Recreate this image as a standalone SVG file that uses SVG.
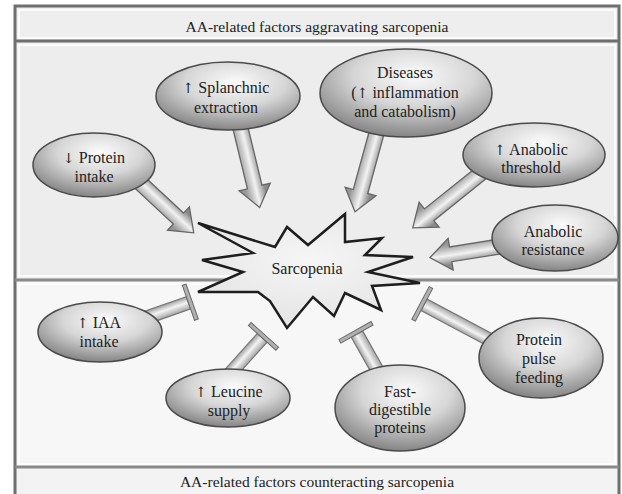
<svg xmlns="http://www.w3.org/2000/svg" width="622" height="494" viewBox="0 0 622 494">
<defs>
<radialGradient id="eg" cx="55%" cy="30%" r="70%">
<stop offset="0" stop-color="#fbfbfb"/>
<stop offset="0.5" stop-color="#d6d6d6"/>
<stop offset="1" stop-color="#858585"/>
</radialGradient>
<linearGradient id="ag" gradientUnits="userSpaceOnUse" x1="0" y1="-10" x2="0" y2="10">
<stop offset="0" stop-color="#8a8a8a"/>
<stop offset="0.45" stop-color="#f2f2f2"/>
<stop offset="1" stop-color="#969696"/>
</linearGradient>
<linearGradient id="tg" gradientUnits="userSpaceOnUse" x1="0" y1="-7" x2="0" y2="7">
<stop offset="0" stop-color="#999"/>
<stop offset="0.45" stop-color="#f4f4f4"/>
<stop offset="1" stop-color="#a0a0a0"/>
</linearGradient>
<radialGradient id="sg" cx="50%" cy="40%" r="60%">
<stop offset="0" stop-color="#f6f6f6"/>
<stop offset="1" stop-color="#e4e4e4"/>
</radialGradient>
</defs>
<style>
text{font-family:'Liberation Serif','DejaVu Serif',serif;fill:#222;text-anchor:middle}
.t{font-size:16px}
.h{font-size:15.5px}
.a{font-family:'DejaVu Serif',serif;font-size:14px}
.node ellipse{fill:url(#eg);stroke:#4a4a4a;stroke-width:1.5}
.arr{fill:url(#ag);stroke:#666;stroke-width:1.3;stroke-linejoin:miter}
.tb{fill:url(#tg);stroke:#777;stroke-width:1.2}
.bar{fill:#b0b0b0;stroke:#6a6a6a;stroke-width:1}
.frame{fill:none;stroke:#6f6f6f;stroke-width:3}
</style>
<rect width="622" height="494" fill="#ffffff"/>
<rect x="15" y="6" width="604" height="35" fill="#eeeeee"/>
<rect x="15" y="41" width="604" height="239" fill="#ededed"/>
<rect x="15" y="280" width="604" height="187" fill="#f7f7f7"/>
<rect x="15" y="467" width="604" height="27" fill="#f3f3f3"/>
<g fill="none" stroke="#ffffff" stroke-width="2" opacity="0.8">
<rect x="19" y="10" width="596" height="28"/>
<rect x="19" y="45" width="596" height="231"/>
<rect x="19" y="284" width="596" height="180"/>
</g>
<path class="frame" d="M15,494 V6 H619 V494"/>
<line x1="15" y1="41" x2="619" y2="41" stroke="#6f6f6f" stroke-width="3"/>
<line x1="15" y1="280" x2="619" y2="280" stroke="#8a8a8a" stroke-width="3"/>
<line x1="15" y1="467" x2="619" y2="467" stroke="#8a8a8a" stroke-width="3"/>
<text class="h" x="317" y="32" font-family="Liberation Serif, serif">AA-related factors aggravating sarcopenia</text>
<text class="h" x="317" y="487" font-family="Liberation Serif, serif">AA-related factors counteracting sarcopenia</text>

<g id="connectors">
<polygon class="arr" transform="translate(136,179) rotate(43)" points="0,-7.5 58,-7.5 58,-16 79,0 58,16 58,7.5 0,7.5"/>
<polygon class="arr" transform="translate(238,118) rotate(76.4)" points="0,-7.5 71,-7.5 71,-16 92,0 71,16 71,7.5 0,7.5"/>
<polygon class="arr" transform="translate(379,124) rotate(105.3)" points="0,-7.5 70,-7.5 70,-16 91,0 70,16 70,7.5 0,7.5"/>
<polygon class="arr" transform="translate(490,166) rotate(141.3)" points="0,-7.5 78,-7.5 78,-16 99,0 78,16 78,7.5 0,7.5"/>
<polygon class="arr" transform="translate(503,246) rotate(171)" points="0,-7.5 53,-7.5 53,-16 74,0 53,16 53,7.5 0,7.5"/>
<g transform="translate(145,318) rotate(-19.3)"><rect class="tb" x="0" y="-6.5" width="46" height="13"/><rect class="bar" x="46" y="-18.5" width="4" height="37"/></g>
<g transform="translate(226,378) rotate(-48)"><rect class="tb" x="0" y="-6.5" width="54" height="13"/><rect class="bar" x="54" y="-18.5" width="4" height="37"/></g>
<g transform="translate(380,375) rotate(-119.4)"><rect class="tb" x="0" y="-6.5" width="47" height="13"/><rect class="bar" x="47" y="-18.5" width="4" height="37"/></g>
<g transform="translate(492,341) rotate(-152)"><rect class="tb" x="0" y="-6.5" width="77" height="13"/><rect class="bar" x="77" y="-18.5" width="4" height="37"/></g>
</g>

<g id="sarcopenia">
<polygon points="198,223 275,247 287,227 308,245 345,214 345,242 382,238 365,255 413,257 368,272 420,283 372,286 381,310 345,293 334,316 313,297 287,328 270,301 258,292 198,292 243,272 202,260 253,253" fill="url(#sg)" stroke="#1e1e1e" stroke-width="2.5" stroke-linejoin="miter"/>
<text class="t" x="307" y="274">Sarcopenia</text>
</g>

<g id="n-protein-intake" class="node"><ellipse cx="94" cy="165" rx="61" ry="32"/><text class="t" x="94" y="163"><tspan class="a">↓</tspan> Protein</text><text class="t" x="94" y="182">intake</text></g>
<g id="n-splanchnic" class="node"><ellipse cx="228" cy="96" rx="72" ry="34"/><text class="t" x="226" y="93"><tspan class="a">↑</tspan> Splanchnic</text><text class="t" x="226" y="113">extraction</text></g>
<g id="n-diseases" class="node"><ellipse cx="406" cy="93" rx="86" ry="44"/><text class="t" x="405" y="78">Diseases</text><text class="t" x="405" y="98">(<tspan class="a">↑</tspan> inflammation</text><text class="t" x="405" y="117">and catabolism)</text></g>
<g id="n-threshold" class="node"><ellipse cx="534" cy="155" rx="71" ry="32"/><text class="t" x="531" y="155"><tspan class="a">↑</tspan> Anabolic</text><text class="t" x="531" y="173">threshold</text></g>
<g id="n-resistance" class="node"><ellipse cx="555" cy="238" rx="63" ry="33"/><text class="t" x="553" y="237">Anabolic</text><text class="t" x="553" y="255">resistance</text></g>
<g id="n-iaa" class="node"><ellipse cx="100" cy="332" rx="62" ry="30"/><text class="t" x="99" y="328"><tspan class="a">↑</tspan> IAA</text><text class="t" x="99" y="347">intake</text></g>
<g id="n-leucine" class="node"><ellipse cx="228" cy="398" rx="62" ry="29"/><text class="t" x="229" y="397"><tspan class="a">↑</tspan> Leucine</text><text class="t" x="229" y="416">supply</text></g>
<g id="n-fast" class="node"><ellipse cx="400" cy="408" rx="65" ry="43"/><text class="t" x="400" y="397">Fast-</text><text class="t" x="400" y="415">digestible</text><text class="t" x="400" y="433">proteins</text></g>
<g id="n-pulse" class="node"><ellipse cx="541" cy="358" rx="62" ry="40"/><text class="t" x="539" y="345">Protein</text><text class="t" x="539" y="364">pulse</text><text class="t" x="539" y="383">feeding</text></g>
</svg>
